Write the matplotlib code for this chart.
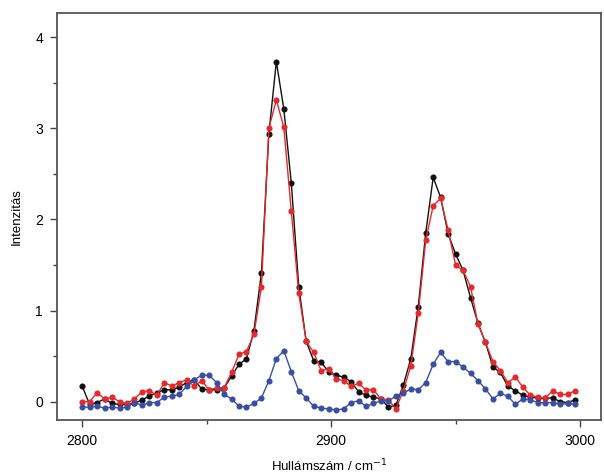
import matplotlib
matplotlib.use("Agg")
import matplotlib.pyplot as plt
from matplotlib.ticker import MultipleLocator
import numpy as np

plt.rcParams["font.family"] = ["Liberation Sans", "DejaVu Sans"]

# wavenumber grid, 3 cm-1 step
wavenumber = np.arange(2800, 3000, 3)

black = [0.17, -0.03, -0.01, 0.03, -0.02, -0.03, -0.03, -0.02, 0.02, 0.06,
         0.10, 0.13, 0.13, 0.16, 0.21, 0.24, 0.14, 0.13, 0.13, 0.15,
         0.28, 0.41, 0.47, 0.78, 1.41, 2.94, 3.73, 3.21, 2.40, 1.26,
         0.66, 0.45, 0.43, 0.33, 0.29, 0.27, 0.22, 0.11, 0.07, 0.05,
         0.03, -0.06, -0.04, 0.18, 0.47, 1.04, 1.85, 2.46, 2.24, 1.84,
         1.62, 1.44, 1.14, 0.86, 0.65, 0.38, 0.32, 0.17, 0.12, 0.07,
         0.05, 0.04, 0.04, 0.04, 0.00, -0.01, 0.02]

red = [0.00, 0.00, 0.10, 0.03, 0.05, 0.00, -0.02, 0.03, 0.11, 0.12,
       0.07, 0.21, 0.17, 0.21, 0.24, 0.17, 0.23, 0.13, 0.15, 0.15,
       0.32, 0.52, 0.55, 0.74, 1.26, 3.00, 3.31, 3.01, 2.09, 1.19,
       0.66, 0.54, 0.34, 0.36, 0.25, 0.23, 0.17, 0.20, 0.13, 0.13,
       0.03, 0.02, -0.08, 0.12, 0.39, 0.97, 1.77, 2.15, 2.23, 1.88,
       1.50, 1.44, 1.26, 0.85, 0.65, 0.44, 0.34, 0.21, 0.27, 0.16,
       0.07, 0.05, 0.04, 0.12, 0.08, 0.08, 0.12]

blue = [-0.06, -0.06, -0.05, -0.07, -0.06, -0.07, -0.06, -0.01, -0.04, -0.01,
        -0.01, 0.05, 0.06, 0.08, 0.17, 0.24, 0.29, 0.29, 0.21, 0.08,
        0.03, -0.05, -0.06, -0.02, 0.04, 0.23, 0.47, 0.56, 0.33, 0.12,
        0.04, -0.05, -0.07, -0.08, -0.09, -0.08, -0.01, 0.01, -0.05, -0.02,
        0.01, 0.01, 0.06, 0.09, 0.14, 0.13, 0.21, 0.41, 0.54, 0.44,
        0.44, 0.38, 0.31, 0.23, 0.14, 0.03, 0.09, 0.06, -0.03, 0.03,
        0.02, -0.01, -0.01, -0.01, -0.03, -0.02, -0.03]

SERIES = [(black, "#111111"), (red, "#e8282c"), (blue, "#3b4ea6")]

fig = plt.figure(figsize=(6.04, 4.75), dpi=100)
ax = fig.add_axes([0.094, 0.116, 0.901, 0.856])

for vals, col in SERIES:
    ax.plot(wavenumber, vals, "-o", color=col, lw=1.0, ms=4.4,
            markeredgewidth=0)

ax.set_xlim(2789.8, 3008.4)
ax.set_ylim(-0.2, 4.26)
ax.xaxis.set_major_locator(MultipleLocator(100))
ax.xaxis.set_minor_locator(MultipleLocator(50))
ax.yaxis.set_major_locator(MultipleLocator(1))
ax.yaxis.set_minor_locator(MultipleLocator(0.5))
ax.tick_params(which="both", direction="out", top=False, right=False,
               labelsize=10, color="#444444", width=1.0)
ax.tick_params(which="major", length=5, pad=5)
ax.tick_params(which="minor", length=3)
for sp in ax.spines.values():
    sp.set_color("#555555")
    sp.set_linewidth(1.3)

ax.set_xlabel("Hullámszám / cm$^{-1}$", fontsize=9.5, labelpad=7)
ax.set_ylabel("Intenzitás", fontsize=9.5, labelpad=9)

fig.savefig("out.png", dpi=100)
